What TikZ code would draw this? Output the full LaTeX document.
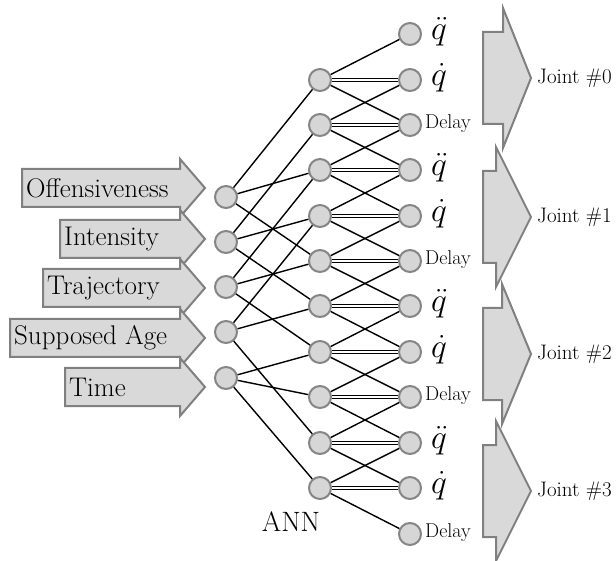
\documentclass[tikz,border=0pt]{standalone}
\definecolor{nodefill}{HTML}{D6D6D6}
\definecolor{nodedraw}{HTML}{858585}
\definecolor{arrfill}{HTML}{D9D9D9}
\definecolor{arrdraw}{HTML}{808080}
\begin{document}
\begin{tikzpicture}[x=1pt,y=-1pt,
  neuron/.style={circle,fill=nodefill,draw=nodedraw,line width=2pt,minimum size=22pt,inner sep=0pt},
  conn/.style={line width=1.4pt},
  dconn/.style={double,double distance=1.3pt,line width=1pt},
  arrowshape/.style={fill=arrfill,draw=arrdraw,line width=2pt,line join=miter},
  inlabel/.style={font=\fontsize{27}{31}\selectfont,anchor=west,inner sep=0pt},
  jlabel/.style={font=\fontsize{21}{25}\selectfont,anchor=west,inner sep=0pt},
  qlabel/.style={font=\fontsize{24.88}{30}\selectfont,anchor=west,inner sep=0pt},
  dlabel/.style={font=\fontsize{20}{23}\selectfont,anchor=west,inner sep=0pt},
  annlabel/.style={font=\fontsize{28}{32}\selectfont,inner sep=0pt}]
\useasboundingbox (0,0) rectangle (616,561);

% input arrows
\foreach \nm/\lx/\cy/\txt in {off/22/188/Offensiveness, int/60/239/Intensity, tra/43/288/Trajectory, age/10/338/Supposed Age, tim/65/387/Time}{
  \path[arrowshape] (\lx,\cy-19) -- (180,\cy-19) -- (180,\cy-29) -- (205,\cy) -- (180,\cy+29) -- (180,\cy+19) -- (\lx,\cy+19) -- cycle;
  \node[inlabel] (\nm) at (\lx+4,\cy) {\txt};
}

% output arrows
\foreach \nm/\bx/\cy/\k in {j0/503/78/0, j1/496/217/1, j2/502/354/2, j3/496/491/3}{
  \path[arrowshape] (483,\cy-46) -- (\bx,\cy-46) -- (\bx,\cy-70) -- (531,\cy) -- (\bx,\cy+70) -- (\bx,\cy+46) -- (483,\cy+46) -- cycle;
  \node[jlabel] (\nm) at (537,\cy) {Joint \#\k};
}

% input neurons
\foreach \i/\y in {1/197, 2/242, 3/287, 4/332, 5/378}
  \node[neuron] (i\i) at (226,\y) {};
% hidden neurons
\foreach \i/\y in {1/80, 2/125, 3/170, 4/216, 5/261, 6/306, 7/352, 8/397, 9/443, 10/488}
  \node[neuron] (h\i) at (320,\y) {};
% output neurons
\foreach \i/\y in {1/34, 2/80, 3/125, 4/170, 5/216, 6/261, 7/306, 8/352, 9/397, 10/443, 11/488, 12/534}
  \node[neuron] (o\i) at (410,\y) {};

% output labels
\foreach \i in {1,4,7,10}
  \node[qlabel] (lq\i) at ([xshift=9pt,yshift=2pt]o\i.east) {\scalebox{1.35}{$\ddot{q}$}};
\foreach \i in {2,5,8,11}
  \node[qlabel] (lq\i) at ([xshift=9pt,yshift=2pt]o\i.east) {\scalebox{1.35}{$\dot{q}$}};
\foreach \i in {3,6,9,12}
  \node[dlabel] (lq\i) at ([xshift=3pt,yshift=1pt]o\i.east) {Delay};

% input to hidden
\foreach \a/\b in {1/1, 1/3, 1/5, 2/2, 2/4, 2/6, 3/3, 3/5, 3/7, 4/4, 4/6, 4/9, 5/7, 5/8, 5/10}
  \draw[conn] (i\a) -- (h\b);

% hidden to output
\foreach \i in {1,...,10}{
  \pgfmathtruncatemacro{\na}{\i+1}
  \pgfmathtruncatemacro{\nb}{\i+2}
  \draw[conn] (h\i) -- (o\i);
  \draw[dconn] (h\i) -- (o\na);
  \draw[conn] (h\i) -- (o\nb);
}

\node[annlabel] (ann) at (291,522) {ANN};
\end{tikzpicture}
\end{document}
